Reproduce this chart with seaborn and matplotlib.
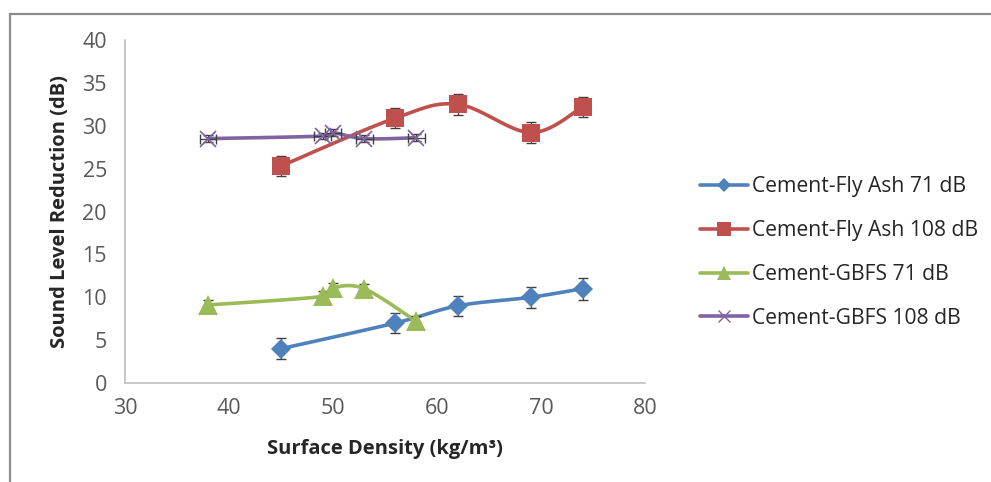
import numpy as np
import pandas as pd
import matplotlib
import matplotlib.pyplot as plt
import seaborn as sns
from matplotlib.lines import Line2D
from matplotlib.patches import Rectangle

# data
fa71_x = [45, 56, 62, 69, 74]
fa71_y = [4.0, 7.0, 9.0, 10.0, 11.0]
fa108_x = [45, 56, 62, 69, 74]
fa108_y = [25.3, 30.9, 32.5, 29.2, 32.2]
gb71_x = [38, 49, 50, 53, 58]
gb71_y = [9.1, 10.1, 11.1, 11.0, 7.2]
gb108_x = [38, 49, 50, 53, 58]
gb108_y = [28.5, 28.8, 29.2, 28.5, 28.6]

fa71_err = [1.2, 1.2, 1.2, 1.2, 1.3]
fa108_err = [1.2, 1.2, 1.2, 1.2, 1.2]
gb71_err = [0.6, 0.6, 0.6, 0.6, 0.6]
gb108_xerr = [0.8, 0.8, 0.8, 0.8, 0.8]
gb108_yerr = [0.4, 0.4, 0.4, 0.4, 0.4]

labels = ['Cement-Fly Ash 71 dB', 'Cement-Fly Ash 108 dB',
          'Cement-GBFS 71 dB', 'Cement-GBFS 108 dB']
colors = ['#4F81BD', '#C0504D', '#9BBB59', '#8064A2']
markers = ['D', 's', '^', 'x']
msizes = [10, 13, 14, 11]

sns.set_style('white')
plt.rcParams['font.family'] = ['Open Sans', 'DejaVu Sans']


def smooth(x, y, n=30):
    # Excel-style smoothed line (cardinal bezier between points)
    x = np.asarray(x, float)
    y = np.asarray(y, float)
    P = np.column_stack([x, y])
    out = []
    for i in range(len(P) - 1):
        p0 = P[i - 1] if i > 0 else P[i]
        p1 = P[i]
        p2 = P[i + 1]
        p3 = P[i + 2] if i + 2 < len(P) else P[i + 1]
        c1 = p1 + (p2 - p0) / 6.0
        c2 = p2 - (p3 - p1) / 6.0
        t = np.linspace(0, 1, n)[:, None]
        seg = ((1 - t) ** 3) * p1 + 3 * ((1 - t) ** 2) * t * c1 + 3 * (1 - t) * t ** 2 * c2 + t ** 3 * p2
        out.append(seg)
    out = np.vstack(out)
    return out[:, 0], out[:, 1]


fig = plt.figure(figsize=(9.91, 4.82), dpi=100)
ax = fig.add_axes([0.1261, 0.2054, 0.5248, 0.7116])

series = [
    (fa71_x, fa71_y, None, fa71_err),
    (fa108_x, fa108_y, None, fa108_err),
    (gb71_x, gb71_y, None, gb71_err),
    (gb108_x, gb108_y, gb108_xerr, gb108_yerr),
]

for (xs, ys, xe, ye), c, m, ms, lab in zip(series, colors, markers, msizes, labels):
    sx, sy = smooth(xs, ys)
    ax.plot(sx, sy, color=c, lw=2.6, zorder=2, solid_capstyle='round')
    ax.errorbar(xs, ys, xerr=xe, yerr=ye, fmt='none', ecolor='#404040',
                elinewidth=0.9, capsize=3.5, capthick=1.0, zorder=3)
    df = pd.DataFrame({'x': xs, 'y': ys})
    if m == 'x':
        ax.plot(df['x'], df['y'], ls='none', marker=m, ms=ms, mew=1.2, color=c, zorder=4)
    else:
        ax.plot(df['x'], df['y'], ls='none', marker=m, ms=ms, mew=0, color=c, zorder=4)

ax.set_xlim(30, 80)
ax.set_ylim(0, 40)
ax.set_xticks(range(30, 81, 10))
ax.set_yticks(range(0, 41, 5))
sns.despine(ax=ax)
for s in ['left', 'bottom']:
    ax.spines[s].set_color('#BFBFBF')
    ax.spines[s].set_linewidth(1.2)
ax.tick_params(axis='both', which='both', direction='out', length=5, width=1.2,
               color='#BFBFBF', labelcolor='#595959', labelsize=15.5, pad=6)
ax.tick_params(axis='y', pad=8)

ax.set_xlabel('Surface Density (kg/m³)', fontsize=14.5, fontweight='bold', color='#262626', labelpad=14)
ax.set_ylabel('Sound Level Reduction (dB)', fontsize=14.5, fontweight='bold', color='#262626', labelpad=9)

handles = [Line2D([], [], color=c, lw=2.6, marker=m, ms=ms * 0.75,
                  mew=1.0 if m == 'x' else 0)
           for c, m, ms in zip(colors, markers, msizes)]
fig.legend(handles, labels, loc='center left', bbox_to_anchor=(0.687, 0.476),
           frameon=False, fontsize=15.2, labelspacing=1.08, handlelength=2.3,
           handletextpad=0.15, labelcolor='#262626')

# outer chart-area frame
fig.patches.append(Rectangle((0.0101, -0.1), 1.2, 0.1 + 0.971, transform=fig.transFigure,
                             fill=False, edgecolor='#8C8C8C', lw=1.6))

fig.savefig('out.png', dpi=100)
